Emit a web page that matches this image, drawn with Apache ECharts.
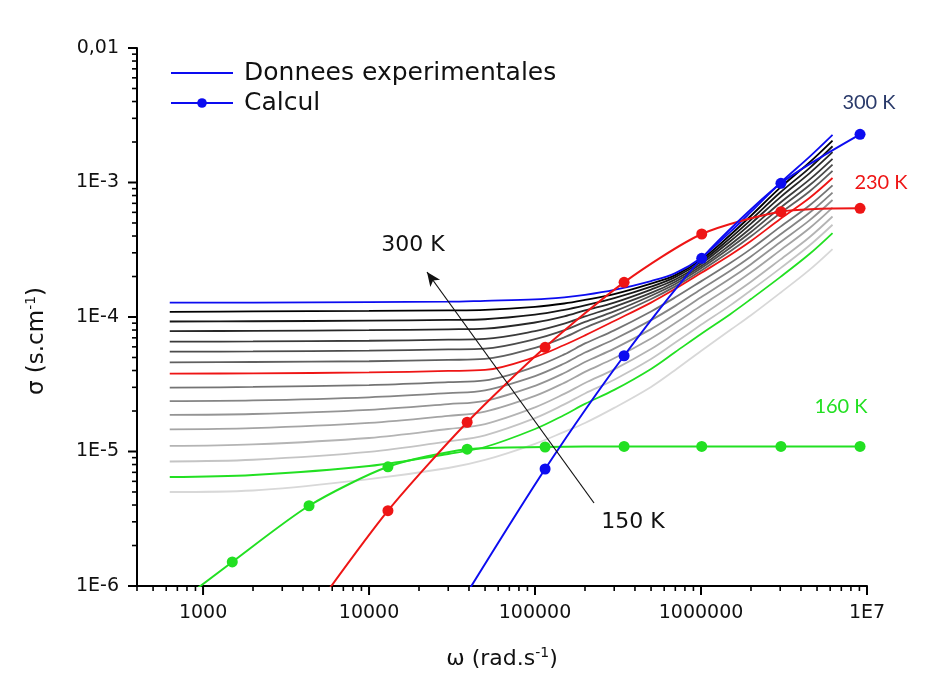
<!DOCTYPE html>
<html><head><meta charset="utf-8">
<script src="https://cdn.jsdelivr.net/npm/echarts@6/dist/echarts.min.js"></script>
<style>html,body{margin:0;padding:0;background:#fff}#c{width:926px;height:684px}</style>
</head><body><div id="c"></div>
<script>
// ---------- data ----------
const omegaExp = [630, 2000, 10000, 30000, 50000, 100000, 150000, 200000, 300000, 500000, 700000, 1000000, 1500000, 2000000, 3000000, 4500000, 6200000];
const sigma300K = [1.28e-4, 1.28e-4, 1.29e-4, 1.30e-4, 1.32e-4, 1.35e-4, 1.40e-4, 1.46e-4, 1.59e-4, 1.85e-4, 2.12e-4, 2.75e-4, 4.29e-4, 6.04e-4, 9.91e-4, 1.55e-3, 2.26e-3];
const sigma290K = [1.09e-4, 1.10e-4, 1.11e-4, 1.12e-4, 1.13e-4, 1.19e-4, 1.26e-4, 1.34e-4, 1.48e-4, 1.77e-4, 2.05e-4, 2.66e-4, 4.07e-4, 5.66e-4, 9.15e-4, 1.41e-3, 2.05e-3];
const sigma280K = [9.26e-5, 9.30e-5, 9.39e-5, 9.51e-5, 9.62e-5, 1.04e-4, 1.13e-4, 1.22e-4, 1.38e-4, 1.68e-4, 1.98e-4, 2.57e-4, 3.86e-4, 5.29e-4, 8.42e-4, 1.28e-3, 1.86e-3];
const sigma270K = [7.85e-5, 7.89e-5, 7.98e-5, 8.10e-5, 8.20e-5, 9.10e-5, 1.01e-4, 1.12e-4, 1.28e-4, 1.60e-4, 1.90e-4, 2.48e-4, 3.66e-4, 4.95e-4, 7.75e-4, 1.17e-3, 1.68e-3];
const sigma260K = [6.55e-5, 6.58e-5, 6.66e-5, 6.78e-5, 6.87e-5, 7.85e-5, 8.93e-5, 1.01e-4, 1.19e-4, 1.51e-4, 1.83e-4, 2.38e-4, 3.45e-4, 4.59e-4, 7.07e-4, 1.05e-3, 1.50e-3];
const sigma250K = [5.52e-5, 5.55e-5, 5.62e-5, 5.74e-5, 5.82e-5, 6.84e-5, 7.97e-5, 9.19e-5, 1.10e-4, 1.44e-4, 1.76e-4, 2.30e-4, 3.27e-4, 4.28e-4, 6.48e-4, 9.53e-4, 1.36e-3];
const sigma240K = [4.60e-5, 4.63e-5, 4.69e-5, 4.80e-5, 4.88e-5, 5.90e-5, 7.05e-5, 8.32e-5, 1.02e-4, 1.36e-4, 1.69e-4, 2.21e-4, 3.08e-4, 3.98e-4, 5.91e-4, 8.58e-4, 1.22e-3];
const sigma230K = [3.79e-5, 3.81e-5, 3.87e-5, 3.97e-5, 4.04e-5, 5.04e-5, 6.19e-5, 7.30e-5, 9.34e-5, 1.28e-4, 1.62e-4, 2.12e-4, 2.89e-4, 3.67e-4, 5.35e-4, 7.67e-4, 1.08e-3];
const sigma220K = [2.98e-5, 3.02e-5, 3.12e-5, 3.28e-5, 3.38e-5, 4.27e-5, 5.27e-5, 6.36e-5, 7.96e-5, 1.10e-4, 1.40e-4, 1.84e-4, 2.52e-4, 3.21e-4, 4.68e-4, 6.74e-4, 9.51e-4];
const sigma210K = [2.37e-5, 2.40e-5, 2.53e-5, 2.72e-5, 2.85e-5, 3.64e-5, 4.51e-5, 5.44e-5, 6.83e-5, 9.48e-5, 1.21e-4, 1.61e-4, 2.21e-4, 2.82e-4, 4.11e-4, 5.95e-4, 8.42e-4];
const sigma200K = [1.87e-5, 1.90e-5, 2.04e-5, 2.25e-5, 2.38e-5, 3.08e-5, 3.83e-5, 4.63e-5, 5.82e-5, 8.13e-5, 1.05e-4, 1.40e-4, 1.93e-4, 2.47e-4, 3.60e-4, 5.23e-4, 7.41e-4];
const sigma190K = [1.46e-5, 1.49e-5, 1.63e-5, 1.84e-5, 1.98e-5, 2.59e-5, 3.24e-5, 3.91e-5, 4.93e-5, 6.93e-5, 9.02e-5, 1.21e-4, 1.68e-4, 2.15e-4, 3.13e-4, 4.57e-4, 6.50e-4];
const sigma180K = [1.10e-5, 1.13e-5, 1.26e-5, 1.47e-5, 1.60e-5, 2.13e-5, 2.68e-5, 3.23e-5, 4.08e-5, 5.78e-5, 7.59e-5, 1.02e-4, 1.43e-4, 1.83e-4, 2.67e-4, 3.92e-4, 5.59e-4];
const sigma170K = [8.43e-6, 8.68e-6, 9.92e-6, 1.19e-5, 1.32e-5, 1.77e-5, 2.24e-5, 2.70e-5, 3.42e-5, 4.87e-5, 6.46e-5, 8.74e-5, 1.22e-4, 1.58e-4, 2.30e-4, 3.40e-4, 4.85e-4];
const sigma160K = [6.46e-6, 6.69e-6, 7.80e-6, 9.58e-6, 1.08e-5, 1.47e-5, 1.87e-5, 2.26e-5, 2.87e-5, 4.11e-5, 5.49e-5, 7.48e-5, 1.05e-4, 1.36e-4, 1.98e-4, 2.94e-4, 4.21e-4];
const sigma150K = [5.00e-6, 5.13e-6, 6.24e-6, 7.54e-6, 8.65e-6, 1.14e-5, 1.40e-5, 1.63e-5, 2.11e-5, 3.02e-5, 4.04e-5, 5.59e-5, 8.00e-5, 1.03e-4, 1.51e-4, 2.24e-4, 3.20e-4];

const omegaCalc = [500, 1500, 4350, 13000, 39000, 115000, 344000, 1010000, 3030000, 9080000];
const calc160K = [5.4e-7, 1.51e-6, 3.95e-6, 7.7e-6, 1.04e-5, 1.08e-5, 1.09e-5, 1.09e-5, 1.09e-5, 1.09e-5];
const calc230K = [null, null, 5.9e-7, 3.63e-6, 1.65e-5, 5.95e-5, 1.81e-4, 4.14e-4, 6.07e-4, 6.43e-4];
const calc300K = [null, null, null, null, 8.9e-7, 7.41e-6, 5.15e-5, 2.73e-4, 9.86e-4, 2.28e-3];

const xTickValues = [1000, 10000, 100000, 1000000, 10000000];
const xTickLabels = ['1000', '10000', '100000', '1000000', '1E7'];
const yTickValues = [1e-6, 1e-5, 1e-4, 1e-3, 1e-2];
const yTickLabels = ['1E-6', '1E-5', '1E-4', '1E-3', '0,01'];
const xMin = 400, xMax = 1e7, yMin = 1e-6, yMax = 1e-2;

// ---------- style ----------
const FONT = 'DejaVu Sans';
const BLUE = '#0c0cf0', RED = '#ee1515', GREEN = '#22e022';

const expDefs = [
  {name: '150 K', data: sigma150K, color: '#d8d8d8'},
  {name: '170 K', data: sigma170K, color: '#c4c4c4'},
  {name: '180 K', data: sigma180K, color: '#b4b4b4'},
  {name: '190 K', data: sigma190K, color: '#a4a4a4'},
  {name: '200 K', data: sigma200K, color: '#949494'},
  {name: '210 K', data: sigma210K, color: '#848484'},
  {name: '220 K', data: sigma220K, color: '#747474'},
  {name: '240 K', data: sigma240K, color: '#606060'},
  {name: '250 K', data: sigma250K, color: '#4c4c4c'},
  {name: '260 K', data: sigma260K, color: '#3a3a3a'},
  {name: '270 K', data: sigma270K, color: '#282828'},
  {name: '280 K', data: sigma280K, color: '#161616'},
  {name: '290 K', data: sigma290K, color: '#000000'},
  {name: '160 K', data: sigma160K, color: GREEN},
  {name: '230 K', data: sigma230K, color: RED},
  {name: 'Donnees experimentales', data: sigma300K, color: BLUE}
];
const calcDefs = [
  {name: 'Calcul 160 K', data: calc160K, color: GREEN},
  {name: 'Calcul 230 K', data: calc230K, color: RED},
  {name: 'Calcul', data: calc300K, color: BLUE}
];

const series = [];
expDefs.forEach(d => {
  series.push({
    name: d.name, type: 'line', smooth: 0.35,
    symbol: 'none', showSymbol: false,
    lineStyle: {color: d.color, width: 1.8}, itemStyle: {color: d.color},
    data: omegaExp.map((w, i) => [w, d.data[i]]),
    silent: true
  });
});
calcDefs.forEach(d => {
  const pts = [];
  omegaCalc.forEach((w, i) => { if (d.data[i] != null) pts.push([w, d.data[i]]); });
  series.push({
    name: d.name, type: 'line', smooth: 0.25,
    symbol: 'circle', symbolSize: 11, showSymbol: true, clip: true,
    lineStyle: {color: d.color, width: 2}, itemStyle: {color: d.color},
    data: pts, silent: true
  });
});

// arrow annotation (data coordinates)
series.push({
  name: 'arrow', type: 'line', data: [], silent: true,
  markLine: {
    silent: true, symbol: ['none', 'arrow'], symbolSize: [9, 14],
    label: {show: false},
    lineStyle: {color: '#111', width: 1.2, type: 'solid'},
    data: [[{coord: [226700, 4.14e-6]}, {coord: [22340, 2.16e-4]}]]
  }
});

// tick marks (major + log minor) through the axes
const tickData = [];
xTickValues.forEach(v => tickData.push([v, yMin, 0]));
yTickValues.forEach(v => tickData.push([xMin, v, 2]));
for (let e = 2; e <= 6; e++) {
  for (let m = 2; m <= 9; m++) {
    const v = m * Math.pow(10, e);
    if (v < xMin) continue;
    tickData.push([v, yMin, 1]);
  }
}
for (let e = -6; e <= -3; e++) {
  for (let m = 2; m <= 9; m++) tickData.push([xMin, m * Math.pow(10, e), 3]);
}
series.push({
  name: 'ticks', type: 'custom', silent: true, clip: false, z: 10,
  data: tickData,
  renderItem: (params, api) => {
    const kind = api.value(2);
    if (kind < 2) {
      const p = api.coord([api.value(0), yMin]);
      const len = kind === 0 ? 9 : 5;
      return {type: 'line', shape: {x1: p[0], y1: p[1], x2: p[0], y2: p[1] + len},
              style: {stroke: '#000', lineWidth: kind === 0 ? 2 : 1.6}};
    } else {
      const p = api.coord([xMin, api.value(1)]);
      const len = kind === 2 ? 9 : 5;
      return {type: 'line', shape: {x1: p[0], y1: p[1], x2: p[0] - len, y2: p[1]},
              style: {stroke: '#000', lineWidth: kind === 2 ? 2 : 1.6}};
    }
  }
});

function labelFor(values, labels, v) {
  for (let i = 0; i < values.length; i++) {
    if (Math.abs(Math.log10(v) - Math.log10(values[i])) < 1e-6) return labels[i];
  }
  return '';
}

const chart = echarts.init(document.getElementById('c'), null, {renderer: 'canvas'});
chart.setOption({
  animation: false,
  backgroundColor: '#fff',
  grid: {left: 137, right: 59, top: 48, bottom: 98, containLabel: false},
  legend: {
    data: [
      {name: 'Donnees experimentales', icon: 'path://M0,0 M0,12 M0,5 L62,5 L62,7 L0,7 Z'},
      {name: 'Calcul'}
    ],
    left: 170, top: 60, orient: 'vertical', padding: 0,
    itemWidth: 62, itemHeight: 12, itemGap: 4, selectedMode: false,
    textStyle: {fontFamily: FONT, fontSize: 25, color: '#111', lineHeight: 26, padding: [0, 0, 0, 6]}
  },
  xAxis: {
    type: 'log', logBase: 10, min: xMin, max: xMax, splitNumber: 5,
    axisLine: {show: true, onZero: false, lineStyle: {color: '#000', width: 2}},
    axisTick: {show: false}, splitLine: {show: false},
    axisLabel: {fontFamily: FONT, fontSize: 19, color: '#111', margin: 18,
      formatter: v => labelFor(xTickValues, xTickLabels, v)},
    name: '{a|ω (rad.s}{s|-1}{a|)}', nameLocation: 'middle', nameGap: 60,
    nameTextStyle: {rich: {
      a: {fontFamily: FONT, fontSize: 22, color: '#111'},
      s: {fontFamily: FONT, fontSize: 14, color: '#111', padding: [0, 0, 12, 0]}
    }}
  },
  yAxis: {
    type: 'log', logBase: 10, min: yMin, max: yMax, splitNumber: 4,
    axisLine: {show: true, onZero: false, lineStyle: {color: '#000', width: 2}},
    axisTick: {show: false}, splitLine: {show: false},
    axisLabel: {fontFamily: FONT, fontSize: 19, color: '#111', margin: 18,
      formatter: v => labelFor(yTickValues, yTickLabels, v)}
  },
  series: series,
  graphic: [
    {type: 'text', x: 37, y: 341, rotation: Math.PI / 2, silent: true,
     style: {text: '{a|σ (s.cm}{s|-1}{a|)}', align: 'center', verticalAlign: 'middle',
       rich: {a: {fontFamily: FONT, fontSize: 23, fill: '#111'},
              s: {fontFamily: FONT, fontSize: 14, fill: '#111', padding: [0, 0, 12, 0]}}}},
    {type: 'text', x: 413, y: 245, silent: true,
     style: {text: '300 K', fontFamily: FONT, fontSize: 22, fill: '#111', align: 'center', verticalAlign: 'middle'}},
    {type: 'text', x: 633, y: 522, silent: true,
     style: {text: '150 K', fontFamily: FONT, fontSize: 22, fill: '#111', align: 'center', verticalAlign: 'middle'}},
    {type: 'text', x: 869, y: 103, silent: true,
     style: {text: '300 K', fontFamily: 'Lato', fontSize: 20, fill: '#2a3a6a', align: 'center', verticalAlign: 'middle'}},
    {type: 'text', x: 881, y: 183, silent: true,
     style: {text: '230 K', fontFamily: 'Lato', fontSize: 20, fill: RED, align: 'center', verticalAlign: 'middle'}},
    {type: 'text', x: 841, y: 407, silent: true,
     style: {text: '160 K', fontFamily: 'Lato', fontSize: 20, fill: GREEN, align: 'center', verticalAlign: 'middle'}}
  ]
});
</script>
</body></html>
